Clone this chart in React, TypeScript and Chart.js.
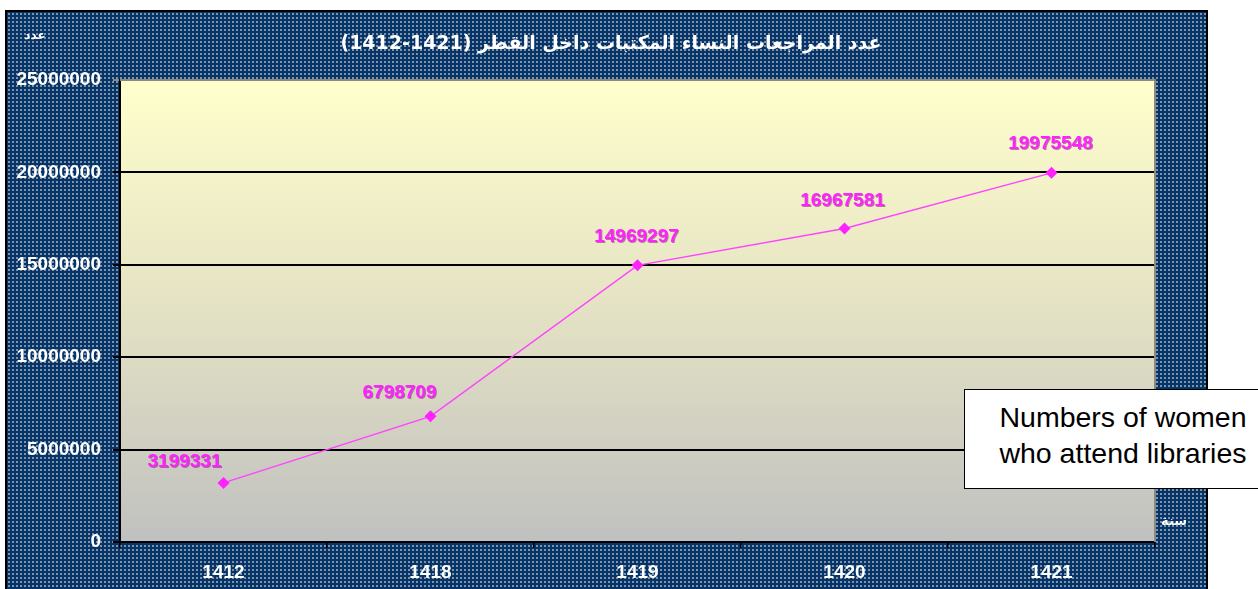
import React, { useEffect, useRef } from "react";
import { Chart, registerables } from "chart.js";

Chart.register(...registerables);

const categories = ["1412", "1418", "1419", "1420", "1421"];
const womenVisits = [3199331, 6798709, 14969297, 16967581, 19975548];
const yTicks = [0, 5000000, 10000000, 15000000, 20000000, 25000000];
const titleText = "عدد المراجعات النساء المكتبات داخل القطر (1421-1412)";
const yAxisCaption = "عدد";
const xAxisCaption = "سنة";
const noteLines = ["Numbers of women", "who attend libraries"];

const labelShiftX = [-39, -31, -1, -2, -1];
const labelShiftY = [-21, -24, -29, -28, -29];

const plotBackground = {
  id: "plotBackground",
  beforeDraw(chart: any) {
    const { ctx, chartArea } = chart;
    if (!chartArea) return;
    const g = ctx.createLinearGradient(0, chartArea.top, 0, chartArea.bottom);
    g.addColorStop(0, "#FFFFCC");
    g.addColorStop(0.5, "#E4E2C4");
    g.addColorStop(1, "#C0C0C0");
    ctx.save();
    ctx.fillStyle = g;
    ctx.fillRect(chartArea.left, chartArea.top, chartArea.right - chartArea.left, chartArea.bottom - chartArea.top);
    ctx.restore();
  },
  beforeDatasetsDraw(chart: any) {
    const { ctx, chartArea } = chart;
    ctx.save();
    ctx.strokeStyle = "#8a8a80";
    ctx.lineWidth = 2;
    ctx.beginPath();
    ctx.moveTo(chartArea.left, chartArea.top);
    ctx.lineTo(chartArea.right, chartArea.top);
    ctx.lineTo(chartArea.right, chartArea.bottom);
    ctx.stroke();
    ctx.restore();
  },
};

const valueLabels = {
  id: "valueLabels",
  afterDatasetsDraw(chart: any) {
    const { ctx } = chart;
    const meta = chart.getDatasetMeta(0);
    ctx.save();
    ctx.font = "bold 19px Arial, 'Liberation Sans', sans-serif";
    ctx.textAlign = "center";
    ctx.textBaseline = "middle";
    meta.data.forEach((pt: any, i: number) => {
      const v = chart.data.datasets[0].data[i];
      const x = pt.x + (labelShiftX[i] || 0);
      const y = pt.y + (labelShiftY[i] || -27);
      ctx.fillStyle = "rgba(120,0,120,0.5)";
      ctx.fillText(String(v), x + 1, y + 1);
      ctx.fillStyle = "#FF22FF";
      ctx.fillText(String(v), x, y);
    });
    ctx.restore();
  },
};

export default function App() {
  const canvasRef = useRef<HTMLCanvasElement | null>(null);

  useEffect(() => {
    if (!canvasRef.current) return;
    const chart = new Chart(canvasRef.current, {
      type: "line",
      data: {
        labels: categories,
        datasets: [
          {
            data: womenVisits,
            borderColor: "#FF44FF",
            backgroundColor: "#FF22FF",
            borderWidth: 1.5,
            pointStyle: "rectRot",
            pointRadius: 6,
            pointBorderWidth: 0,
            pointBackgroundColor: "#FF22FF",
            tension: 0,
            fill: false,
          },
        ],
      },
      options: {
        responsive: false,
        animation: false,
        layout: { padding: { top: 68, right: 51, left: 0, bottom: 0 } },
        plugins: {
          legend: { display: false },
          tooltip: { enabled: false },
          title: { display: false },
        },
        scales: {
          x: {
            type: "category",
            offset: true,
            afterFit(scale: any) {
              scale.height = 47;
            },
            grid: {
              display: true,
              offset: true,
              drawOnChartArea: false,
              drawTicks: true,
              tickLength: 6,
              color: "#000000",
              lineWidth: 1.5,
            },
            border: { display: true, color: "#000000", width: 2 },
            ticks: {
              color: "#FFFFFF",
              padding: 13,
              font: { family: "Arial, 'Liberation Sans', sans-serif", size: 19, weight: "bold", lineHeight: 1.2 },
            },
          },
          y: {
            min: 0,
            max: 25000000,
            afterFit(scale: any) {
              scale.width = 113;
            },
            afterBuildTicks(scale: any) {
              scale.ticks = yTicks.map((v) => ({ value: v }));
            },
            grid: {
              drawTicks: true,
              tickLength: 7,
              lineWidth: 2,
              color: (ctx: any) => (ctx.tick && ctx.tick.value === 25000000 ? "#8a8a80" : "#000000"),
            },
            border: { display: true, color: "#000000", width: 2 },
            ticks: {
              color: "#FFFFFF",
              padding: 12,
              font: { family: "Arial, 'Liberation Sans', sans-serif", size: 19, weight: "bold", lineHeight: 1.2 },
              callback: (v: any) => String(v),
            },
          },
        },
      },
      plugins: [plotBackground, valueLabels],
    });
    return () => chart.destroy();
  }, []);

  return (
    <div
      style={{
        position: "fixed",
        left: 0,
        top: 0,
        width: 1258,
        height: 589,
        background: "#FFFFFF",
        overflow: "hidden",
      }}
    >
      <div
        style={{
          position: "absolute",
          left: 5,
          top: 10,
          width: 1199,
          height: 577,
          border: "2px solid #000",
          backgroundColor: "#063466",
          backgroundImage: "radial-gradient(circle, #7d92ad 0.8px, transparent 1.2px)",
          backgroundSize: "4px 4px",
        }}
      >
        <canvas ref={canvasRef} width={1199} height={577} style={{ display: "block" }} />
      </div>
      <div
        dir="rtl"
        style={{
          position: "absolute",
          left: 0,
          top: 30,
          width: 1222,
          textAlign: "center",
          color: "#FFFFFF",
          fontFamily: "'DejaVu Sans', sans-serif",
          fontWeight: "bold",
          fontSize: 19,
          lineHeight: "24px",
          whiteSpace: "nowrap",
        }}
      >
        {titleText}
      </div>
      <div
        dir="rtl"
        style={{
          position: "absolute",
          left: 20,
          top: 27,
          width: 30,
          textAlign: "center",
          color: "#FFFFFF",
          fontFamily: "'DejaVu Sans', sans-serif",
          fontWeight: "bold",
          fontSize: 12,
          lineHeight: "16px",
        }}
      >
        {yAxisCaption}
      </div>
      <div
        dir="rtl"
        style={{
          position: "absolute",
          left: 1157,
          top: 512,
          width: 34,
          textAlign: "center",
          color: "#FFFFFF",
          fontFamily: "'DejaVu Sans', sans-serif",
          fontWeight: "bold",
          fontSize: 13,
          lineHeight: "18px",
        }}
      >
        {xAxisCaption}
      </div>
      <div
        style={{
          position: "absolute",
          left: 964,
          top: 389,
          width: 318,
          height: 100,
          boxSizing: "border-box",
          border: "1.5px solid #000",
          background: "#FFFFFF",
          display: "flex",
          flexDirection: "column",
          justifyContent: "center",
          alignItems: "center",
          paddingBottom: 8,
          fontFamily: "Arial, 'Liberation Sans', sans-serif",
          fontSize: 28.5,
          lineHeight: "36px",
          color: "#000000",
        }}
      >
        {noteLines.map((l) => (
          <div key={l} style={{ whiteSpace: "nowrap" }}>
            {l}
          </div>
        ))}
      </div>
    </div>
  );
}
